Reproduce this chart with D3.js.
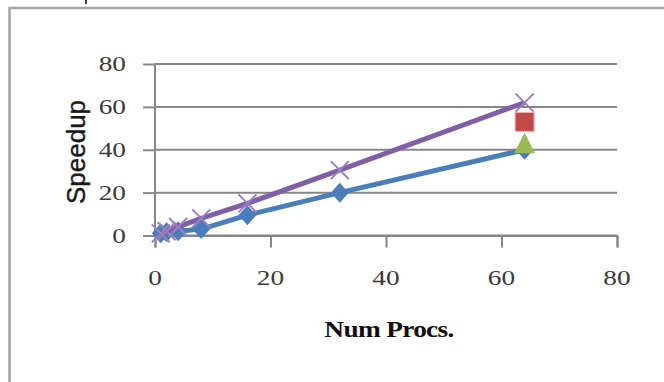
<!DOCTYPE html>
<html>
<head>
<meta charset="utf-8">
<script src="https://cdn.jsdelivr.net/npm/d3@7"></script>
<style>
  html, body { margin: 0; padding: 0; background: #fff; }
  svg { display: block; }
</style>
</head>
<body>
<svg id="chart" width="664" height="382"></svg>
<script>
// Processor counts and measured speedups
const procs = [1, 2, 4, 8, 16, 32, 64];
const speedupA = [1, 1.5, 2, 3, 9.5, 20, 40];      // blue diamonds
const speedupB = [1, 2, 4, 8, 15, 30.5, 62];       // purple crosses
const singleRed = [{ x: 64, y: 53 }];              // red square
const singleGreen = [{ x: 64, y: 43 }];            // green triangle
const xTicks = [0, 20, 40, 60, 80];
const yTicks = [0, 20, 40, 60, 80];

const svg = d3.select("#chart");

// outer chart frame (continues past the right and bottom edges)
svg.append("rect")
  .attr("x", 9.5).attr("y", 8)
  .attr("width", 700).attr("height", 420)
  .attr("fill", "#fff")
  .attr("stroke", "#a3a3a3")
  .attr("stroke-width", 2.5);

svg.append("line")
  .attr("x1", 86).attr("x2", 86).attr("y1", 0).attr("y2", 4)
  .attr("stroke", "#000").attr("stroke-width", 1.5);

const x = d3.scaleLinear().domain([0, 80]).range([155, 617]);
const y = d3.scaleLinear().domain([0, 80]).range([235.5, 64]);

const gridColor = "#878787";

// horizontal gridlines with left ticks
const yAxis = d3.axisLeft(y).tickValues(yTicks).tickSize(12).tickFormat("");
svg.append("g")
  .attr("transform", `translate(${x(0)},0)`)
  .call(yAxis)
  .call(g => g.select(".domain").remove())
  .call(g => g.selectAll(".tick line").attr("stroke", gridColor).attr("stroke-width", 2));

svg.append("g")
  .selectAll("line")
  .data(yTicks)
  .join("line")
  .attr("x1", x(0)).attr("x2", x(80))
  .attr("y1", d => y(d)).attr("y2", d => y(d))
  .attr("stroke", gridColor).attr("stroke-width", 2);

// vertical axis line
svg.append("line")
  .attr("x1", x(0)).attr("x2", x(0))
  .attr("y1", y(80)).attr("y2", y(0))
  .attr("stroke", gridColor).attr("stroke-width", 2);

// bottom axis ticks
const xAxis = d3.axisBottom(x).tickValues(xTicks).tickSize(12).tickFormat("");
svg.append("g")
  .attr("transform", `translate(0,${y(0)})`)
  .call(xAxis)
  .call(g => g.select(".domain").attr("stroke", gridColor).attr("stroke-width", 2))
  .call(g => g.selectAll(".tick line").attr("stroke", gridColor).attr("stroke-width", 2));

// tick labels
const labelFont = "'Liberation Serif', 'Times New Roman', serif";
svg.append("g")
  .selectAll("text")
  .data(yTicks)
  .join("text")
  .attr("transform", d => `translate(126,${y(d)}) scale(1.3,1)`)
  .attr("text-anchor", "end")
  .attr("dy", "0.34em")
  .attr("font-family", labelFont)
  .attr("font-size", 21)
  .attr("fill", "#3a3a3a")
  .text(d => d);

svg.append("g")
  .selectAll("text")
  .data(xTicks)
  .join("text")
  .attr("transform", d => `translate(${x(d)},285) scale(1.3,1)`)
  .attr("text-anchor", "middle")
  .attr("font-family", labelFont)
  .attr("font-size", 21)
  .attr("fill", "#3a3a3a")
  .text(d => d);

// axis titles
svg.append("text")
  .attr("transform", "translate(389,337) scale(1.14,1)")
  .attr("text-anchor", "middle")
  .attr("font-family", labelFont)
  .attr("font-weight", "bold")
  .attr("font-size", 24)
  .attr("letter-spacing", -0.6)
  .attr("fill", "#111")
  .text("Num Procs.");

svg.append("text")
  .attr("transform", "translate(85,152) rotate(-90)")
  .attr("text-anchor", "middle")
  .attr("font-family", "'Liberation Sans', Arial, sans-serif")
  .attr("font-size", 26)
  .attr("fill", "#1a1a1a")
  .attr("stroke", "#1a1a1a")
  .attr("stroke-width", 0.4)
  .text("Speedup");

const line = d3.line().x(d => x(d[0])).y(d => y(d[1]));
const blue = "#4a7ebb";
const purple = "#7f60a6";

// series A: line with diamonds
const dataA = procs.map((p, i) => [p, speedupA[i]]);
svg.append("path")
  .datum(dataA)
  .attr("d", line)
  .attr("fill", "none")
  .attr("stroke", blue)
  .attr("stroke-width", 5)
  .attr("stroke-linejoin", "round");

svg.append("g")
  .selectAll("path")
  .data(dataA)
  .join("path")
  .attr("transform", d => `translate(${x(d[0])},${y(d[1])})`)
  .attr("d", "M0,-10L9,0L0,10L-9,0Z")
  .attr("fill", blue);

// single-point series at 64 processors
svg.append("g")
  .selectAll("rect")
  .data(singleRed)
  .join("rect")
  .attr("x", d => x(d.x) - 9.5)
  .attr("y", d => y(d.y) - 9.5)
  .attr("width", 19).attr("height", 19)
  .attr("fill", "#be4b48")
  .attr("stroke", "#e8b5b3")
  .attr("stroke-width", 1);

svg.append("g")
  .selectAll("path")
  .data(singleGreen)
  .join("path")
  .attr("transform", d => `translate(${x(d.x)},${y(d.y)})`)
  .attr("d", "M0,-10.5L10.5,10L-10.5,10Z")
  .attr("fill", "#98b954");

// series B: line with crosses
const dataB = procs.map((p, i) => [p, speedupB[i]]);
svg.append("path")
  .datum(dataB)
  .attr("d", line)
  .attr("fill", "none")
  .attr("stroke", purple)
  .attr("stroke-width", 5)
  .attr("stroke-linejoin", "round");

svg.append("g")
  .selectAll("path")
  .data(dataB)
  .join("path")
  .attr("transform", d => `translate(${x(d[0])},${y(d[1])})`)
  .attr("d", "M-9,-9L9,9M-9,9L9,-9")
  .attr("fill", "none")
  .attr("stroke", "#9a80c0")
  .attr("stroke-width", 2);
</script>
</body>
</html>
